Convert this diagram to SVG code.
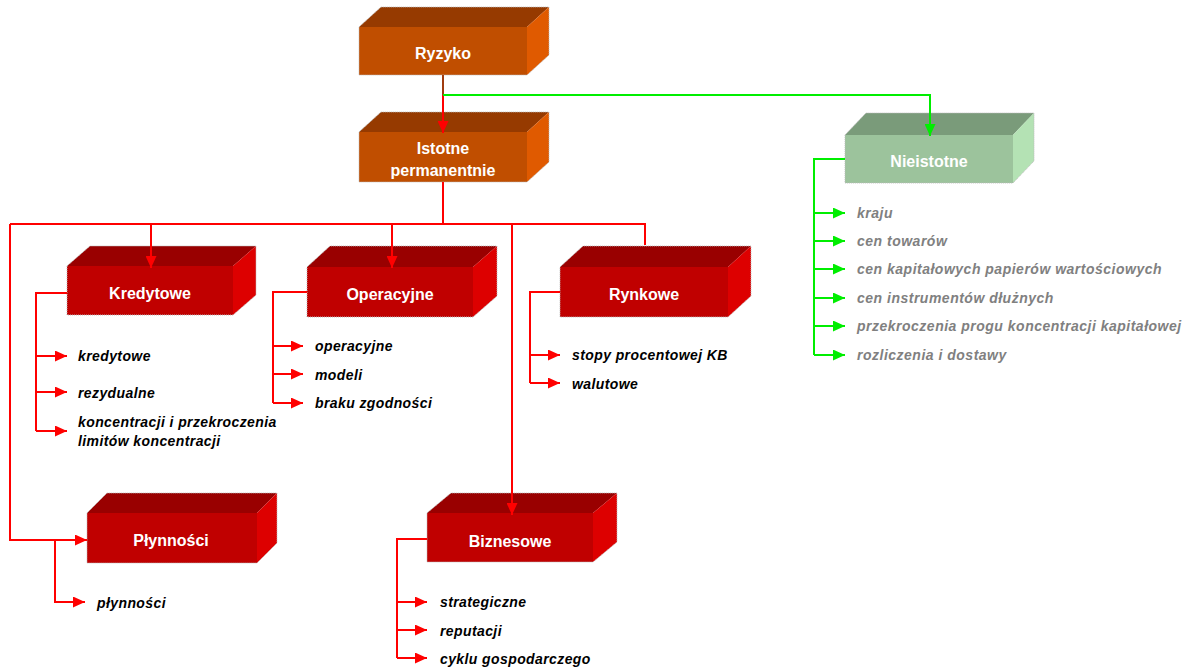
<svg xmlns="http://www.w3.org/2000/svg" width="1192" height="670" viewBox="0 0 1192 670">
<defs>
<style>
.lbl{font-family:"Liberation Sans",Arial,sans-serif;font-weight:bold;font-size:16px;fill:#fff;text-anchor:middle}
.it{font-family:"Liberation Sans",Arial,sans-serif;font-weight:bold;font-style:italic;font-size:14px;letter-spacing:0.4px;fill:#000}
.itg{font-family:"Liberation Sans",Arial,sans-serif;font-weight:bold;font-style:italic;font-size:14px;letter-spacing:0.5px;fill:#808080}
.r{stroke:#ff0000;stroke-width:2;fill:none}
.g{stroke:#00ee00;stroke-width:2;fill:none}
.ofr{fill:#c04e00}.otp{fill:#963a00}.ort{fill:#e05a00}
.rfr{fill:#c00000}.rtp{fill:#990000}.rrt{fill:#dd0000}
.gfr{fill:#9cc39c}.gtp{fill:#7a9b7a}.grt{fill:#b4e2b4}
.edge{fill:none;stroke:#bbbbbb;stroke-width:1;stroke-dasharray:1 1}
</style>
<marker id="ar" viewBox="0 0 12 11" refX="12" refY="5.5" markerWidth="12" markerHeight="11" markerUnits="userSpaceOnUse" orient="auto"><path d="M0,0 L12,5.5 L0,11 z" fill="#ff0000"/></marker>
<marker id="ag" viewBox="0 0 12 11" refX="12" refY="5.5" markerWidth="12" markerHeight="11" markerUnits="userSpaceOnUse" orient="auto"><path d="M0,0 L12,5.5 L0,11 z" fill="#00ee00"/></marker>
</defs>
<rect width="1192" height="670" fill="#fff"/>

<g id="ryzyko">
<rect class="ofr" x="359" y="27" width="168" height="48"/>
<polygon class="otp" points="359,27 381,7 549,7 527,27"/>
<polygon class="ort" points="527,27 549,7 549,55 527,75"/>
<path class="edge" d="M359,27 L381,7 H549 V55 L527,75 H359 Z"/>
<text class="lbl" x="443" y="59">Ryzyko</text>
</g>

<g id="istotne">
<rect class="ofr" x="359" y="132" width="168" height="50"/>
<polygon class="otp" points="359,132 381,112 549,112 527,132"/>
<polygon class="ort" points="527,132 549,112 549,162 527,182"/>
<path class="edge" d="M359,132 L381,112 H549 V162 L527,182 H359 Z"/>
<text class="lbl" x="443" y="154">Istotne</text>
<text class="lbl" x="443" y="176">permanentnie</text>
</g>

<g id="nieistotne">
<rect class="gfr" x="845" y="135" width="168" height="48"/>
<polygon class="gtp" points="845,135 866,113 1034,113 1013,135"/>
<polygon class="grt" points="1013,135 1034,113 1034,161 1013,183"/>
<path class="edge" d="M845,135 L866,113 H1034 V161 L1013,183 H845 Z"/>
<text class="lbl" x="929" y="167">Nieistotne</text>
</g>

<g id="nieistotne-items">
<text class="itg" x="857" y="218">kraju</text>
<text class="itg" x="857" y="246">cen towarów</text>
<text class="itg" x="857" y="274">cen kapitałowych papierów wartościowych</text>
<text class="itg" x="857" y="303">cen instrumentów dłużnych</text>
<text class="itg" x="857" y="331">przekroczenia progu koncentracji kapitałowej</text>
<text class="itg" x="857" y="360">rozliczenia i dostawy</text>
</g>

<g id="kredytowe">
<rect class="rfr" x="67" y="266" width="166" height="49"/>
<polygon class="rtp" points="67,266 90,246 256,246 233,266"/>
<polygon class="rrt" points="233,266 256,246 256,295 233,315"/>
<path class="edge" d="M67,266 L90,246 H256 V295 L233,315 H67 Z"/>
<text class="lbl" x="150" y="299">Kredytowe</text>
</g>
<g id="kredytowe-items">
<text class="it" x="78" y="361">kredytowe</text>
<text class="it" x="78" y="398">rezydualne</text>
<text class="it" x="78" y="427">koncentracji i przekroczenia</text>
<text class="it" x="78" y="446">limitów koncentracji</text>
</g>

<g id="operacyjne">
<rect class="rfr" x="307" y="267" width="166" height="50"/>
<polygon class="rtp" points="307,267 330,246 497,246 473,267"/>
<polygon class="rrt" points="473,267 497,246 497,296 473,317"/>
<path class="edge" d="M307,267 L330,246 H497 V296 L473,317 H307 Z"/>
<text class="lbl" x="390" y="300">Operacyjne</text>
</g>
<g id="operacyjne-items">
<text class="it" x="315" y="351">operacyjne</text>
<text class="it" x="315" y="380">modeli</text>
<text class="it" x="315" y="408">braku zgodności</text>
</g>

<g id="rynkowe">
<rect class="rfr" x="560" y="267" width="168" height="50"/>
<polygon class="rtp" points="560,267 583,246 751,246 728,267"/>
<polygon class="rrt" points="728,267 751,246 751,296 728,317"/>
<path class="edge" d="M560,267 L583,246 H751 V296 L728,317 H560 Z"/>
<text class="lbl" x="644" y="300">Rynkowe</text>
</g>
<g id="rynkowe-items">
<text class="it" x="572" y="360">stopy procentowej KB</text>
<text class="it" x="572" y="389">walutowe</text>
</g>

<g id="plynnosci">
<rect class="rfr" x="87" y="513" width="170" height="50"/>
<polygon class="rtp" points="87,513 107,493 277,493 257,513"/>
<polygon class="rrt" points="257,513 277,493 277,543 257,563"/>
<path class="edge" d="M87,513 L107,493 H277 V543 L257,563 H87 Z"/>
<text class="lbl" x="171" y="546">Płynności</text>
</g>
<g id="plynnosci-items">
<text class="it" x="97" y="608">płynności</text>
</g>

<g id="biznesowe">
<rect class="rfr" x="427" y="513" width="166" height="49"/>
<polygon class="rtp" points="427,513 451,493 617,493 593,513"/>
<polygon class="rrt" points="593,513 617,493 617,542 593,562"/>
<path class="edge" d="M427,513 L451,493 H617 V542 L593,562 H427 Z"/>
<text class="lbl" x="510" y="547">Biznesowe</text>
</g>
<g id="biznesowe-items">
<text class="it" x="440" y="607">strategiczne</text>
<text class="it" x="440" y="636">reputacji</text>
<text class="it" x="440" y="664">cyklu gospodarczego</text>
</g>

<g id="connectors">
<path d="M443,75 V95" stroke="#a03c10" stroke-width="2" fill="none"/>
<path class="r" d="M443,95 V133" marker-end="url(#ar)"/>
<path class="g" d="M443,95 H930 V136" marker-end="url(#ag)"/>
<path class="r" d="M443,182 V224"/>
<path class="r" d="M10,224 H645 V245"/>
<path class="r" d="M151,224 V268" marker-end="url(#ar)"/>
<path class="r" d="M392,224 V268" marker-end="url(#ar)"/>
<path class="r" d="M512,224 V515" marker-end="url(#ar)"/>
<path class="r" d="M10,224 V540 H87" marker-end="url(#ar)"/>
<path class="g" d="M845,159 H814 V355"/>
<path class="g" d="M814,213 H845" marker-end="url(#ag)"/>
<path class="g" d="M814,241 H845" marker-end="url(#ag)"/>
<path class="g" d="M814,269 H845" marker-end="url(#ag)"/>
<path class="g" d="M814,298 H845" marker-end="url(#ag)"/>
<path class="g" d="M814,326 H845" marker-end="url(#ag)"/>
<path class="g" d="M814,355 H845" marker-end="url(#ag)"/>
<path class="r" d="M67,293 H36 V431"/>
<path class="r" d="M36,356 H67" marker-end="url(#ar)"/>
<path class="r" d="M36,392 H67" marker-end="url(#ar)"/>
<path class="r" d="M36,431 H67" marker-end="url(#ar)"/>
<path class="r" d="M307,292 H273 V403"/>
<path class="r" d="M273,346 H303" marker-end="url(#ar)"/>
<path class="r" d="M273,374 H303" marker-end="url(#ar)"/>
<path class="r" d="M273,403 H303" marker-end="url(#ar)"/>
<path class="r" d="M560,292 H530 V383"/>
<path class="r" d="M530,355 H560" marker-end="url(#ar)"/>
<path class="r" d="M530,383 H560" marker-end="url(#ar)"/>
<path class="r" d="M55,540 V602 H85" marker-end="url(#ar)"/>
<path class="r" d="M427,539 H397 V658"/>
<path class="r" d="M397,602 H427" marker-end="url(#ar)"/>
<path class="r" d="M397,630 H427" marker-end="url(#ar)"/>
<path class="r" d="M397,658 H427" marker-end="url(#ar)"/>
</g>
</svg>
